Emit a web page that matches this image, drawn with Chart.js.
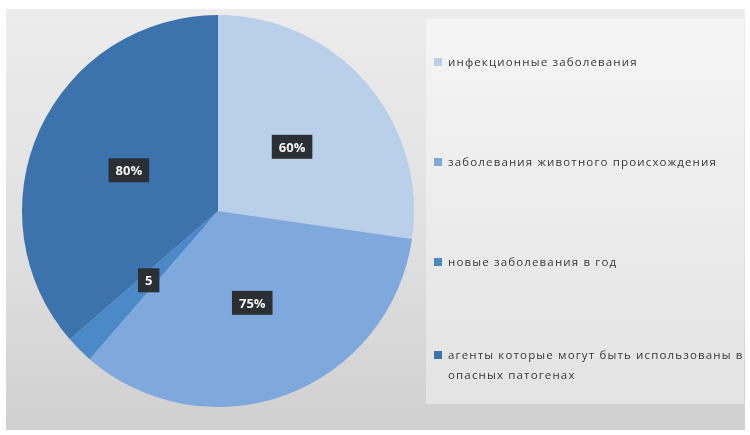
<!DOCTYPE html>
<html>
<head>
<meta charset="utf-8">
<script src="https://cdn.jsdelivr.net/npm/chart.js@4.4.1/dist/chart.umd.min.js"></script>
<style>
  html, body { margin: 0; padding: 0; background: #fff; }
  body { width: 750px; height: 435px; position: relative; overflow: hidden; }
  #frame {
    position: absolute; left: 6px; top: 9px; width: 739px; height: 421px;
    background: linear-gradient(to bottom, #ececec 0%, #e0e0e0 55%, #d0d0d0 100%);
    filter: blur(0.7px);
  }
  #panel {
    position: absolute; left: 420px; top: 10px; width: 318px; height: 385px;
    background: linear-gradient(to bottom, #f5f5f5 0%, #eaeaea 60%, #e3e3e3 100%);
  }
  #wrap { position: absolute; left: 4px; top: 6px; width: 416px; height: 392px; }
  #legend { position: absolute; left: 428px; top: 0; width: 320px; }
  .item {
    position: absolute; left: 0; font-family: "Open Sans", sans-serif;
    font-size: 11.5px; letter-spacing: 1.15px; color: #383838; line-height: 20px;
    padding-left: 14px; width: 305px;
  }
  .item i { position: absolute; left: 0; top: 6px; width: 8px; height: 8px; }
</style>
</head>
<body>
<div id="frame">
  <div id="panel"></div>
  <div id="wrap"><canvas id="pie"></canvas></div>
  <div id="legend"></div>
</div>
<script>
var categories = [
  'инфекционные заболевания',
  'заболевания животного происхождения',
  'новые заболевания в год',
  'агенты которые могут быть использованы  в опасных патогенах'
];
var values = [60, 75, 5, 80];
var valueLabels = ['60%', '75%', '5', '80%'];
var colors = ['#bad0ea', '#7fa9dd', '#4c89c8', '#3c73ad'];
var legendTops = [43, 143, 243, 336];

// dark boxes with the value text in the middle of each slice
var boxLabels = {
  id: 'boxLabels',
  afterDatasetsDraw: function (chart) {
    var ctx = chart.ctx;
    var meta = chart.getDatasetMeta(0);
    ctx.save();
    ctx.font = 'bold 13px "Open Sans", sans-serif';
    ctx.textAlign = 'center';
    ctx.textBaseline = 'middle';
    meta.data.forEach(function (arc, i) {
      var p = arc.getCenterPoint();
      var text = valueLabels[i];
      var w = ctx.measureText(text).width + 14;
      var h = 24;
      ctx.fillStyle = '#2b2f34';
      ctx.fillRect(p.x - w / 2, p.y - h / 2, w, h);
      ctx.fillStyle = '#f4f4f4';
      ctx.fillText(text, p.x, p.y + 1);
    });
    ctx.restore();
  }
};

new Chart(document.getElementById('pie'), {
  type: 'pie',
  data: {
    labels: categories,
    datasets: [{
      data: values,
      backgroundColor: colors,
      borderWidth: 0
    }]
  },
  options: {
    responsive: true,
    maintainAspectRatio: false,
    animation: false,
    layout: { padding: 0 },
    plugins: {
      legend: { display: false },
      tooltip: { enabled: false }
    }
  },
  plugins: [boxLabels]
});

var legend = document.getElementById('legend');
categories.forEach(function (name, i) {
  var div = document.createElement('div');
  div.className = 'item';
  div.style.top = legendTops[i] + 'px';
  var sw = document.createElement('i');
  sw.style.background = colors[i];
  div.appendChild(sw);
  div.appendChild(document.createTextNode(name));
  legend.appendChild(div);
});
</script>
</body>
</html>
